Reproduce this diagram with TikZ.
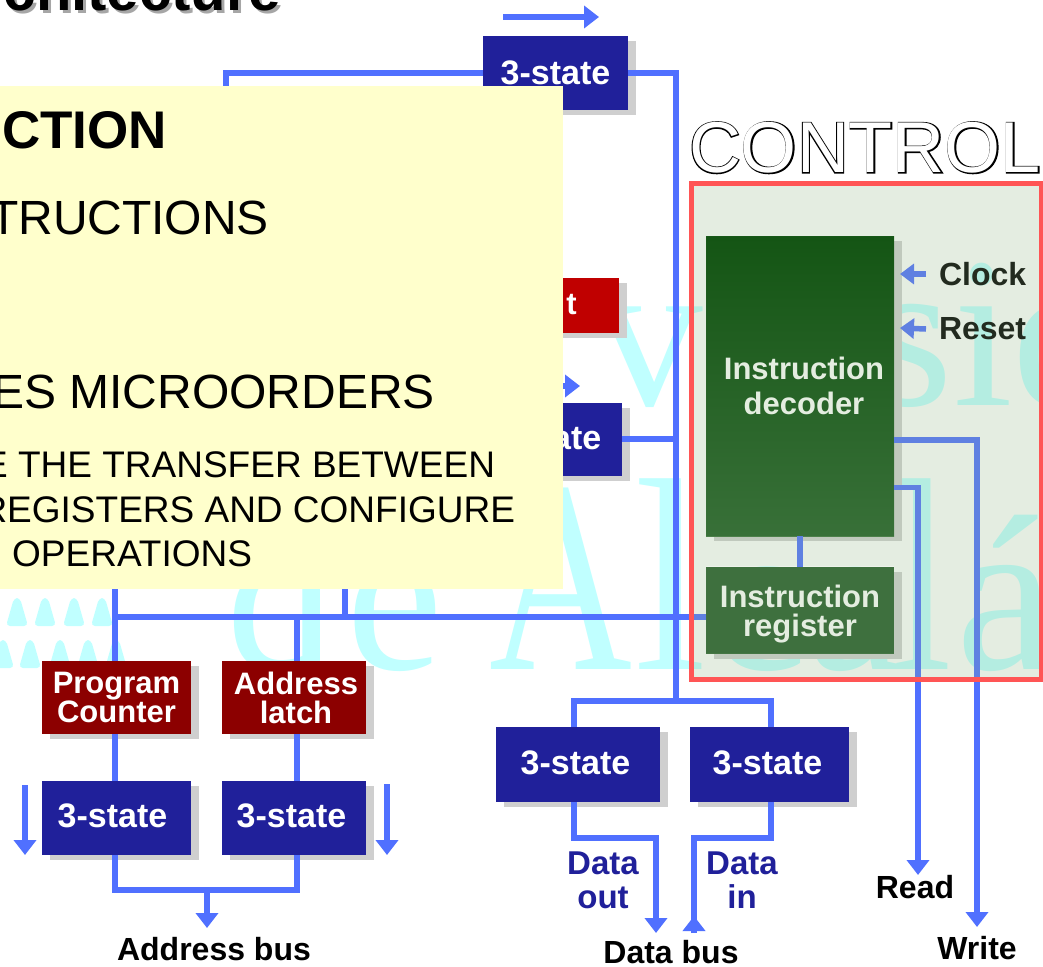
\documentclass[tikz,border=0pt]{standalone}
\usepackage{fontspec}
\setmainfont{Liberation Sans}
\newfontfamily\wmfont{Liberation Serif}
\newfontfamily\ctrlfat[FakeBold=3]{Liberation Sans}
\usetikzlibrary{arrows.meta,shadows,positioning}
\definecolor{busblue}{HTML}{5070FF}
\definecolor{navybox}{HTML}{20209A}
\definecolor{darkred}{HTML}{8C0000}
\definecolor{brightred}{HTML}{C00000}
\definecolor{shadowgray}{HTML}{CFCFCF}
\definecolor{wmcyan}{HTML}{C0FFFF}
\definecolor{overlaygreen}{RGB}{146,183,133}
\definecolor{panelred}{HTML}{FF5555}
\definecolor{notepaper}{HTML}{FFFFCC}
\definecolor{dectop}{HTML}{145514}
\definecolor{decbot}{HTML}{387038}
\definecolor{irgreen}{HTML}{3E703E}
\definecolor{pale}{HTML}{E4EDE0}
\newcommand{\px}[2]{\fontsize{#1}{#2}\selectfont}
\tikzset{
  x=1pt,y=-1pt,
  every node/.style={inner sep=0pt,outer sep=0pt},
  boxbase/.style={text=white,font=\px{31}{29}\bfseries,align=center,
    drop shadow={shadow xshift=8pt,shadow yshift=-5pt,fill=shadowgray,opacity=1}},
  navynode/.style={boxbase,fill=navybox,font=\px{34}{29}\bfseries},
  rednode/.style={boxbase,fill=darkred},
  bus/.style={draw=busblue,line width=5.5pt,line cap=butt,line join=miter},
  busarrow/.style={bus,-{Triangle[width=22pt,length=15pt]}},
  smallarrow/.style={bus,-{Triangle[width=20pt,length=14pt]}},
  lbl/.style={font=\px{32}{30}\bfseries,text=black,align=center},
  bluelbl/.style={font=\px{33}{34}\bfseries,text=navybox,align=center},
  watermark/.style={text=wmcyan,anchor=base west},
  bump/.style={fill=wmcyan,rounded corners=4pt},
  noteline/.style={anchor=base east,text=black},
}
\begin{document}
\begin{tikzpicture}
\path[use as bounding box,clip] (0,0) rectangle (1043,966);
\fill[white] (0,0) rectangle (1043,966);

% watermark
\node[watermark] (wmtop) at (595,405) {\wmfont\px{215}{215}versid};
\node[watermark] (wmde) at (226,669) {\wmfont\px{218}{218}d\kern12pt e};
\node[watermark] (wmA) at (489,669) {\wmfont\scalebox{0.72}[1]{\px{275}{275}A}};
\node[watermark] (wml) at (634,669) {\wmfont\scalebox{0.95}[1]{\px{275}{275}l}};
\node[watermark] (wmc) at (710,669) {\wmfont\px{218}{218}ca};
\node[watermark] (wmm) at (892,669) {\wmfont\scalebox{0.78}[1]{\px{275}{275}l}};
\node[watermark] (wma) at (956,669) {\wmfont\px{222}{222}á};
\foreach \c in {17,45,74,102}{
  \fill[bump] (\c-11,626) -- (\c-3,598) -- (\c+3,598) -- (\c+11,626) -- cycle;}
\foreach \c in {3,30,60,88,116}{
  \fill[bump] (\c-11,668) -- (\c-3,640) -- (\c+3,640) -- (\c+11,668) -- cycle;}

% title
\node[anchor=base east,text=black!35] (titleshadow) at (284,13.5) {\px{58}{58}\bfseries chitecture};
\node[anchor=base east,text=black] (title) at (281,10.5) {\px{58}{58}\bfseries chitecture};

% boxes
\node[navynode,minimum width=145pt,minimum height=74pt] (ts) at (555.5,73) {3-state};
\node[boxbase,fill=brightred,minimum width=169pt,minimum height=55pt,anchor=east] (red) at (619,305) {\hspace*{74pt}t};
\node[navynode,minimum width=145pt,minimum height=73pt,anchor=east] (tm) at (622,439) {\hspace*{-6pt}\raisebox{3pt}{3-state}};

\node[rednode,minimum width=149pt,minimum height=73pt] (pc) at (116.5,697.5) {Program\\Counter};
\node[rednode,minimum width=144pt,minimum height=73pt] (al) at (294,697.5) {\hspace*{4pt}Address\\\hspace*{4pt}latch};
\node[navynode,minimum width=149pt,minimum height=74pt] (s1) at (116.5,818) {\raisebox{4pt}{\hspace*{-8pt}3-state}};
\node[navynode,minimum width=144pt,minimum height=74pt] (s2) at (294,818) {\raisebox{4pt}{\hspace*{-5pt}3-state}};
\node[navynode,minimum width=164pt,minimum height=75pt] (d1) at (578,764.5) {\raisebox{3pt}{\hspace*{-5pt}3-state}};
\node[navynode,minimum width=159pt,minimum height=75pt] (d2) at (769.5,764.5) {\raisebox{3pt}{\hspace*{-4pt}3-state}};

\node[boxbase,text=pale,minimum width=188pt,minimum height=300pt,top color=dectop,bottom color=decbot,font=\px{31}{35}\bfseries] (dec) at (800,386) {\hspace*{8pt}Instruction\\\hspace*{8pt}decoder};
\node[boxbase,text=pale,minimum width=188pt,minimum height=87pt,fill=irgreen] (ir) at (800,610) {\rule{0pt}{30pt}Instruction\\register};

% labels
\node[lbl] (ab) at (214,949) {Address bus};
\node[lbl] (db) at (671,952) {Data bus};
\node[lbl] (rd) at (915,887) {Read};
\node[lbl] (wr) at (977,948) {Write};
\node[lbl,anchor=west] (clk) at (939,274) {Clock};
\node[lbl,anchor=west] (rst) at (939,329) {Reset};
\node[bluelbl] (dout) at (603,880) {Data\\out};
\node[bluelbl] (din) at (742,880) {Data\\in};

% free ends and junctions
\coordinate (arrA) at (503,17);
\coordinate (arrB) at (599,17);
\coordinate (arrC) at (470,386);
\coordinate (arrD) at (580,386);
\coordinate (tl) at (226,100);
\coordinate (tr) at (676,73);
\coordinate (split) at (676,701);
\coordinate (busL) at (115,617);
\coordinate (busB) at (345,617);
\coordinate (busBt) at (345,580);
\coordinate (busLt) at (115,580);
\coordinate (merge) at (207,890);
\coordinate (mergeEnd) at (207,928);
\coordinate (l1) at (25,785);
\coordinate (l2) at (25,855);
\coordinate (r1) at (387,784);
\coordinate (r2) at (387,855);
\coordinate (clkTip) at (900,274);
\coordinate (rstTip) at (900,328);
\coordinate (rdTip) at (918,875);
\coordinate (wrTip) at (977,927);
\coordinate (doTip) at (656,933);
\coordinate (diBase) at (694,933);
\coordinate (diTip) at (694,916);

% connectors
\draw[busarrow] (arrA) -- (arrB);
\draw[busarrow] (arrC) -- (arrD);
\draw[bus] (ts.west) -| (tl);
\draw[bus] (ts.east) -- (tr) -- (split);
\draw[bus] (tm.east) -- (tm.east -| tr);
\draw[bus] (d1.north -| 574,0) |- (split);
\draw[bus] (d2.north -| 771,0) |- (split);
\draw[bus] (busLt) -- (pc.north -| busL);
\draw[bus] (busL) -- (ir.west |- busL);
\draw[bus] (busBt) -- (busB);
\draw[bus] (al.north -| 297,0) -- (297,617);
\draw[bus] (pc.south -| busL) -- (s1.north -| busL);
\draw[bus] (al.south -| 297,0) -- (s2.north -| 297,0);
\draw[bus] (s1.south -| busL) |- (merge) -| (s2.south -| 297,0);
\draw[busarrow] (merge) -- (mergeEnd);
\draw[busarrow] (l1) -- (l2);
\draw[busarrow] (r1) -- (r2);
\draw[busarrow] (d1.south -| 574,0) |- (656,838) -- (doTip);
\draw[bus] (d2.south -| 771,0) |- (694,838) -- (diBase);
\draw[busarrow] (diBase) -- (diTip);
\draw[bus] (dec.south) -- (ir.north);
\draw[busarrow] (dec.east |- 0,487.5) -| (rdTip);
\draw[busarrow] (dec.east |- 0,440) -| (wrTip);
\draw[smallarrow] ([xshift=-13pt]clk.west) -- (clkTip);
\draw[smallarrow] ([xshift=-13pt]rst.west) -- (rstTip);

% translucent control panel, leaving the two green boxes untouched
\node[minimum width=350pt,minimum height=496pt] (panel) at (866,431) {};
\fill[overlaygreen,fill opacity=0.24,even odd rule]
  (panel.south west) rectangle (panel.north east)
  (dec.south west) rectangle (dec.north east)
  (ir.south west) rectangle (ir.north east);
\draw[panelred,line width=5pt] (panel.south west) rectangle (panel.north east);

% CONTROL outline
\node[anchor=base west,text=black] (ctlA) at (689,172.5) {\ctrlfat\px{72}{72}CONTROL};
\node[anchor=base west,text=white] (ctlB) at (689,172.5) {\px{72}{72}CONTROL};

% note
\node[fill=notepaper,minimum width=563pt,minimum height=503pt,anchor=north west] (note) at (0,86) {};
\node[noteline] (n1) at (167,148) {\px{53}{53}\bfseries CTION};
\node[noteline] (n2) at (269,234) {\px{48}{48}TRUCTIONS};
\node[noteline] (n3) at (435,408) {\px{48}{48}ES MICROORDERS};
\node[noteline] (n4) at (495,477) {\px{37}{37}E THE TRANSFER BETWEEN};
\node[noteline] (n5) at (515,522) {\px{37}{37}REGISTERS AND CONFIGURE};
\node[noteline] (n6) at (252,566.5) {\px{37}{37}OPERATIONS};
\end{tikzpicture}
\end{document}
